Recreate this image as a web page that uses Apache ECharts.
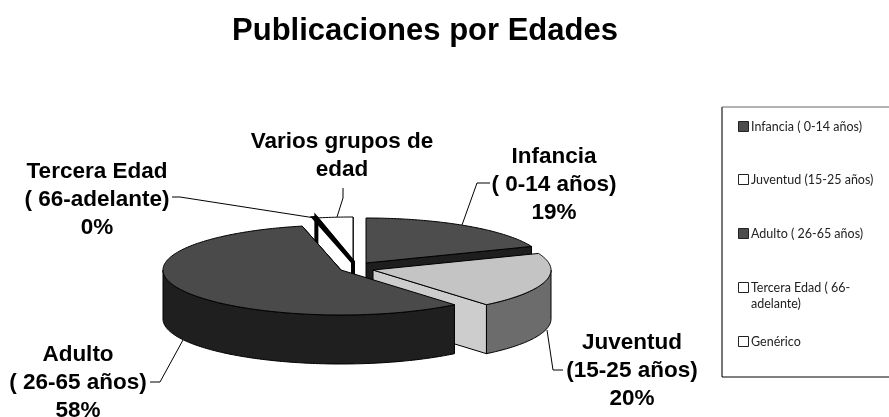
<!DOCTYPE html>
<html>
<head>
<meta charset="utf-8">
<style>
  html, body { margin: 0; background: #fff; }
  #chart { width: 889px; height: 417px; }
</style>
</head>
<body>
<div id="chart"></div>
<script src="https://cdn.jsdelivr.net/npm/echarts@6/dist/echarts.min.js"></script>
<script>
// datos
const categories = ['Infancia', 'Juventud', 'Adulto', 'Tercera Edad', 'Varios grupos de edad'];
const values = [19, 20, 57.5, 0.2, 3.3];
const legendNames = ['Infancia ( 0-14 años)', 'Juventud (15-25 años)', 'Adulto ( 26-65 años)', 'Tercera Edad ( 66-\nadelante)', 'Genérico'];
const labelTexts = ['Infancia\n( 0-14 años)', 'Juventud\n(15-25 años)', 'Adulto\n( 26-65 años)', 'Tercera Edad\n( 66-adelante)', 'Varios grupos de\nedad'];
const showPercent = [true, true, true, true, false];

// estilos de cada porción
const centers = [[366, 263], [373, 270], [341, 270], [353, 262], [353, 262]];
const topColors = ['#4d4d4d', '#c4c4c4', '#4a4a4a', '#ffffff', '#ffffff'];
const sideColors = ['#1e1e1e', '#6c6c6c', '#1f1f1f', '#ffffff', '#ffffff'];
const faceColors = ['#1e1e1e', '#cdcdcd', '#1f1f1f', '#ffffff', '#ffffff'];
const lineWidths = [1, 1, 1, 4, 1];
const zOrder = [3, 4, 5, 2, 1];
const RX = 178;
const RY = 45;
const DEPTH = 49;

const total = values.reduce((a, b) => a + b, 0);

// punto sobre la elipse, angulo en grados desde las 12 en sentido horario
const ellipsePoint = (c, deg, dy) => {
  const r = deg * Math.PI / 180;
  return [c[0] + RX * Math.sin(r), c[1] - RY * Math.cos(r) + (dy || 0)];
};

const arcPoints = (c, from, to, dy) => {
  const pts = [];
  const n = Math.max(2, Math.ceil(Math.abs(to - from)));
  for (let i = 0; i <= n; i++) {
    pts.push(ellipsePoint(c, from + (to - from) * i / n, dy));
  }
  return pts;
};

const renderSlice = (params, api) => {
  const i = params.dataIndex;
  let start = 0;
  for (let k = 0; k < i; k++) start += values[k];
  const from = start / total * 360;
  const to = (start + api.value(0)) / total * 360;
  const c = centers[i];
  const style = (fill) => ({ fill: fill, stroke: '#000', lineWidth: lineWidths[i], lineJoin: 'miter' });
  const children = [];

  // cara interior del corte final
  const endP = ellipsePoint(c, to);
  children.push({
    type: 'polygon',
    z2: zOrder[i] * 10,
    shape: { points: [c, endP, [endP[0], endP[1] + DEPTH], [c[0], c[1] + DEPTH]] },
    style: style(faceColors[i])
  });

  // pared exterior, solo la parte de delante
  const lo = Math.max(from, 90);
  const hi = Math.min(to, 270);
  if (hi > lo) {
    children.push({
      type: 'polygon',
      z2: zOrder[i] * 10 + 1,
      shape: { points: arcPoints(c, lo, hi).concat(arcPoints(c, hi, lo, DEPTH)) },
      style: style(sideColors[i])
    });
  }

  // tapa
  children.push({
    type: 'polygon',
    z2: zOrder[i] * 10 + 2,
    shape: { points: [c].concat(arcPoints(c, from, to)) },
    style: style(topColors[i])
  });
  return { type: 'group', children: children };
};

const chart = echarts.init(document.getElementById('chart'));

const labelPositions = [[554, 143], [632, 329], [78, 341], [97, 158], [342, 128]];
const labelGraphics = categories.map((name, i) => ({
  type: 'text',
  x: labelPositions[i][0],
  y: labelPositions[i][1],
  silent: true,
  style: {
    text: labelTexts[i] + (showPercent[i] ? '\n' + Math.round(values[i]) + '%' : ''),
    font: 'bold 22.5px "Liberation Sans", Arial, sans-serif',
    fill: '#000',
    align: 'center',
    lineHeight: 28
  }
}));

// lineas guia
const leaderLines = [
  [[462, 225], [477, 183], [490, 183]],
  [[547, 330], [553, 370], [563, 370]],
  [[183, 340], [160, 382], [150, 382]],
  [[315, 218], [180, 197], [172, 197]],
  [[337, 217], [343, 198], [343, 188]]
];
const leaderGraphics = leaderLines.map((pts) => ({
  type: 'polyline',
  silent: true,
  z: 10,
  shape: { points: pts },
  style: { stroke: '#000', lineWidth: 1, fill: null }
}));

// leyenda
const legendSwatch = ['#4d4d4d', '#ffffff', '#4d4d4d', '#ffffff', '#ffffff'];
const legendY = [127, 180, 234, 288, 342];
const legendGraphics = [
  { type: 'line', shape: { x1: 722, y1: 107, x2: 722, y2: 377 }, style: { stroke: '#777', lineWidth: 2 } },
  { type: 'line', shape: { x1: 722, y1: 107, x2: 889, y2: 107 }, style: { stroke: '#666', lineWidth: 1 } },
  { type: 'line', shape: { x1: 722, y1: 377, x2: 889, y2: 377 }, style: { stroke: '#000', lineWidth: 1 } }
];
legendNames.forEach((name, i) => {
  legendGraphics.push({
    type: 'rect',
    shape: { x: 738.5, y: legendY[i] - 5.5, width: 10, height: 10 },
    style: { fill: legendSwatch[i], stroke: '#222', lineWidth: 1 }
  });
  legendGraphics.push({
    type: 'text',
    x: 751,
    y: legendY[i] - 8,
    style: { text: name, font: '12.5px Lato, sans-serif', fill: '#222', lineHeight: 16 }
  });
});

chart.setOption({
  animation: false,
  title: {
    text: 'Publicaciones por Edades',
    left: 420,
    top: 11,
    textAlign: 'center',
    textStyle: { fontFamily: '"Liberation Sans", Arial, sans-serif', fontWeight: 'bold', fontSize: 31, color: '#000' }
  },
  graphic: { elements: labelGraphics.concat(leaderGraphics, legendGraphics) },
  series: [{
    type: 'custom',
    coordinateSystem: 'none',
    renderItem: renderSlice,
    silent: true,
    data: values.map((v, i) => ({ name: categories[i], value: [v] }))
  }]
});
</script>
</body>
</html>
